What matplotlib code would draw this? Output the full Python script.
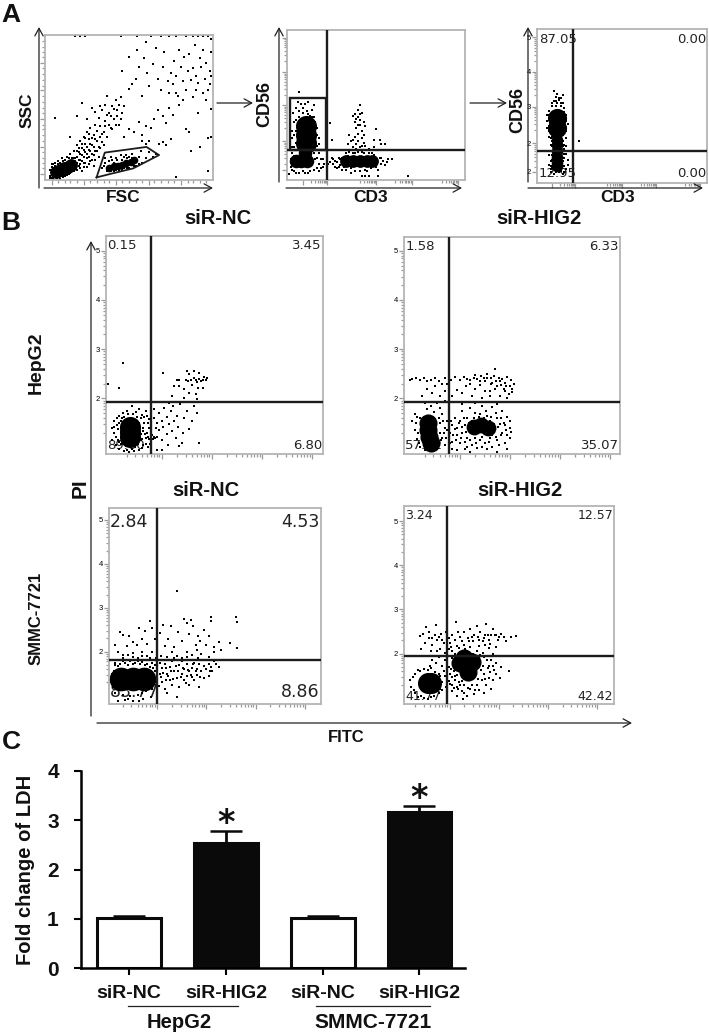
import numpy as np
import matplotlib
matplotlib.use('Agg')
import matplotlib.pyplot as plt

plt.rcParams['font.family'] = ['Liberation Sans', 'DejaVu Sans']

W, H = 709, 1034

# ---- panel A, axis units 0-100 of the plot range
a1_core = [(6.5, 5.5), (8, 6), (9.5, 7), (11.5, 8), (13.5, 9), (15.5, 10.5)]
a1_gate_core = [(38, 8.5), (41, 9.5), (43.5, 10), (46, 10.5), (48.5, 11.5), (51, 12.5), (53, 13.5)]
a1_pts = [(3, 1.5), (4, 9), (5, 11), (6, 12), (8, 13), (9, 1), (10, 15), (11, 2), (12, 3), (13, 16), (14, 4), (15, 18), (16, 6),
          (17, 15), (17, 20), (18, 8), (18, 13), (19, 16), (19, 24), (20, 10), (20, 19), (21, 14), (21, 27), (22, 6), (22, 17),
          (22, 22), (23, 12), (23, 30), (24, 19), (24, 25), (25, 9), (25, 15), (25, 33), (26, 21), (26, 28), (27, 13), (27, 36),
          (28, 18), (28, 24), (29, 31), (29, 10), (30, 20), (30, 38), (31, 27), (31, 34), (32, 23), (32, 43), (33, 30), (33, 37),
          (34, 26), (34, 48), (35, 33), (36, 41), (36, 52), (37, 30), (38, 46), (39, 36), (40, 51), (41, 42), (42, 55), (43, 48),
          (44, 38), (45, 57), (46, 46), (47, 51), (15, 30), (22, 53), (6, 43), (19, 44), (25, 42), (28, 50), (30, 47), (33, 51),
          (37, 58), (34, 8), (36, 15), (37, 6), (39, 16), (41, 6), (42, 15), (44, 7), (45, 17), (47, 8), (48, 17), (50, 8), (52, 18),
          (54, 10), (56, 16), (58, 12), (57, 20), (60, 15), (62, 19), (64, 16), (66, 18), (60, 25), (58, 27), (62, 27), (68, 25),
          (70, 26), (72, 24), (75, 28), (87, 20), (92, 23), (97, 29), (47, 30), (50, 35), (53, 33), (56, 40), (58, 31), (60, 37),
          (63, 36), (65, 42), (67, 48), (70, 44), (72, 39), (74, 50), (76, 45), (78, 60), (80, 52), (82, 55), (84, 35), (86, 33),
          (88, 57), (90, 62), (91, 46), (94, 60), (96, 55), (98, 66), (50, 63), (52, 66), (54, 70), (56, 78), (58, 58), (59, 84),
          (61, 74), (62, 65), (64, 80), (66, 91), (67, 70), (69, 62), (70, 78), (71, 88), (73, 68), (74, 60), (75, 74), (76, 66),
          (77, 82), (78, 72), (79, 58), (80, 90), (81, 78), (82, 68), (83, 85), (84, 62), (85, 75), (86, 87), (87, 69), (88, 77),
          (89, 93), (90, 72), (91, 67), (92, 84), (93, 78), (94, 90), (95, 70), (96, 81), (97, 62), (98, 75), (99, 97), (99, 88),
          (99, 72), (99, 49), (99, 30), (18, 99), (21, 99), (24, 99), (45, 99), (55, 99), (63, 99), (69, 99), (74, 99), (78, 99),
          (84, 99), (88, 99), (91, 99), (94, 99), (97, 99), (55, 90), (46, 75), (50, 85), (60, 95), (78, 2), (97, 6)]
a1_extra = [(3, 3), (3, 7), (4, 1.5), (4, 11), (5, 1), (6, 10), (7, 1.5), (8, 11), (9, 12), (10, 2.5), (11, 13), (12, 14), (13, 3.5),
            (14, 15), (15, 5), (16, 15), (17, 6), (17, 12), (18, 15), (18, 10), (19, 7), (19, 12), (19, 20), (20, 14), (20, 22),
            (21, 8), (21, 11), (21, 18), (22, 13), (22, 25), (23, 9), (23, 16), (23, 21), (24, 12), (24, 29), (25, 18), (25, 23),
            (26, 11), (26, 16), (26, 32), (27, 20), (27, 25), (28, 14), (28, 29), (29, 17), (29, 23), (30, 14), (30, 28), (31, 20),
            (32, 16), (33, 22), (34, 32), (35, 24), (36, 37), (37, 45), (38, 38), (39, 44), (40, 35), (41, 49), (42, 38), (43, 44),
            (44, 52), (45, 42), (35, 10), (36, 12), (38, 13), (40, 14), (41, 12), (43, 14), (44, 6), (46, 14), (47, 16), (49, 15),
            (50, 16), (52, 15), (53, 10), (55, 14), (56, 11), (39, 6), (42, 7), (46, 7), (49, 8)]
a1_gate = [(30.7, 1.8), (35.6, 18.9), (60.4, 22.8), (67.9, 17.2), (52.5, 8), (38.6, 4.1), (30.7, 1.8)]
a1_ticks = [4, 8, 12, 15, 19, 23, 27, 31, 35, 38, 42, 46, 50, 54, 58, 62, 65, 69, 73, 77, 81, 85, 88, 92, 96]

a2_upper_core = [(10.5, 36), (10.5, 30), (10.5, 25)]
a2_lower_core = [(5, 12.5), (8, 12.5), (11, 12.5), (10, 18)]
a2_right_core = [(33, 12.5), (37, 12.5), (41, 12.5), (45, 13), (48, 13)]
a2_pts = [(3, 10), (2, 14), (2, 20), (3, 28), (3, 33), (4, 39), (3, 22), (3.5, 45), (5, 40), (5, 48), (6, 52), (7, 46), (8, 51),
          (9, 48), (10, 51), (11, 46), (12, 52), (13, 43), (13, 37), (14, 47), (15, 50), (15, 33), (16, 26), (16, 39), (17, 30),
          (18, 28), (17, 23), (14, 22), (15, 18), (16, 14), (17, 8), (18, 11), (19, 14), (20, 9), (21, 11), (4, 6), (7, 5), (10, 5),
          (13, 6), (15, 7), (1, 4), (7, 59), (24, 38), (25, 27), (23, 11), (24, 12), (26, 11), (27, 13), (28, 8), (29, 15), (25, 15),
          (30, 10), (31, 7), (32, 14), (29, 9), (33, 18), (35, 19), (36, 8), (37, 18), (38, 6), (40, 19), (41, 6), (43, 18), (44, 7),
          (46, 18), (47, 8), (49, 17), (50, 9), (52, 15), (53, 11), (54, 13), (55, 10), (57, 14), (59, 14), (42, 3), (44, 3), (46, 3),
          (51, 3), (68, 2.5), (34, 24), (35, 30), (36, 26), (37, 22), (38, 29), (39, 35), (39, 24), (40, 31), (40, 26), (41, 37),
          (41, 22), (42, 33), (42, 28), (43, 25), (43, 30), (44, 36), (38, 39), (39, 41), (40, 42), (41, 44), (38, 44), (40, 47),
          (41, 40), (42, 45), (41, 50), (37, 43), (49, 27), (50, 34), (49, 22), (52, 27), (53, 24), (55, 24), (44, 23), (46, 21)]
a2_extra = [(4, 16), (4, 22), (4, 30), (3, 18), (5, 25), (5, 33), (5, 20), (16, 20), (16, 32), (17, 15), (17, 35), (18, 24), (18, 18),
            (14, 42), (12, 44), (9, 45), (7, 42), (6, 38), (6, 28), (15, 42), (19, 8), (18, 6), (20, 14), (3, 7), (2, 9), (5, 5),
            (9, 6), (12, 5), (31, 15), (32, 9), (33, 7), (34, 16), (36, 5), (38, 18), (42, 19), (45, 6), (48, 18), (51, 7), (53, 15),
            (56, 12), (33, 11), (31, 12), (30, 14), (28, 12), (27, 9), (26, 14), (39, 21), (42, 23), (37, 27), (40, 37), (43, 39)]

a3_main_core = [(12, 42), (12, 36)]
a3_small_core = [(12, 28), (12, 25), (12, 21), (12, 17), (12, 13), (11.5, 11)]
a3_pts = [(11, 56), (12, 58), (10, 53), (13, 54), (14, 55), (15, 52), (16, 49), (7, 47), (6, 44), (7, 41), (17, 44), (7, 37), (16, 38),
          (8, 33), (17, 34), (8, 29), (17, 29), (9, 27), (16, 25), (9, 24), (16, 22), (15, 27), (8, 21), (17, 19), (9, 18), (16, 16),
          (8, 14), (18, 12), (9, 10), (17, 9), (8, 7), (10, 6), (13, 7), (15, 6), (16, 11), (8, 11), (10, 60), (24.5, 27), (14, 20),
          (8, 44), (15, 57), (16, 43), (14, 50), (9, 50), (7, 34)]
a3_extra = [(9, 52), (11, 53), (12, 52), (14, 52), (16, 46), (17, 40), (17, 36), (18, 38), (6, 40), (6, 36), (7, 30), (8, 25), (10, 24),
            (15, 24), (14, 17), (15, 14), (16, 19), (7, 18), (7, 12), (8, 9), (10, 9), (14, 8), (16, 7), (18, 15), (11, 7), (9, 30),
            (15, 31), (14, 12), (9, 15), (10, 19), (17, 24), (13, 55), (11, 50), (7, 44)]

# ---- panel B, axis units are log decades
b1_core = [(1.37, 1.42), (1.37, 1.32), (1.37, 1.22)]
b1_pts = [(1.05, 1.55), (1.15, 1.65), (1.22, 1.7), (1.3, 1.75), (1.4, 1.85), (1.48, 1.72), (1.55, 1.78), (1.6, 1.66), (1.68, 1.75),
          (1.05, 1.3), (1.0, 1.15), (1.08, 1.05), (1.15, 0.98), (1.25, 0.93), (1.35, 0.92), (1.45, 0.93), (1.55, 0.95), (1.62, 1.05),
          (1.68, 1.2), (1.72, 1.02), (1.74, 1.4), (1.65, 1.5), (1.58, 1.6), (1.1, 1.45), (1.18, 1.55), (1.62, 1.4), (1.7, 1.3),
          (1.75, 1.58), (1.75, 1.18), (1.15, 1.12), (1.58, 1.15), (1.0, 1.4), (1.8, 1.25), (1.83, 1.18), (1.87, 1.2), (1.9, 1.22),
          (1.85, 1.6), (1.9, 1.5), (1.88, 1.4), (1.95, 1.7), (1.95, 1.35), (2.0, 1.55), (2.0, 1.15), (2.03, 1.42), (2.05, 1.8),
          (2.1, 1.62), (2.1, 1.28), (2.12, 1.05), (2.15, 1.48), (2.18, 1.75), (2.2, 1.33), (2.22, 1.85), (2.25, 1.55), (2.28, 1.2),
          (2.3, 1.65), (2.33, 1.42), (2.36, 1.88), (2.4, 1.1), (2.42, 1.3), (2.45, 1.6), (2.5, 1.75), (2.55, 1.38), (2.6, 1.55),
          (2.65, 1.85), (2.7, 1.7), (2.75, 1.1), (1.9, 0.95), (2.0, 0.95), (2.35, 1.03), (1.85, 1.78), (2.15, 1.9), (2.45, 2.0),
          (2.2, 2.05), (2.55, 2.1), (2.68, 2.08), (2.7, 1.98), (2.25, 2.25), (2.3, 2.38), (2.35, 2.38), (2.55, 2.1), (2.35, 2.25),
          (2.45, 2.2), (2.52, 2.35), (2.55, 2.5), (2.58, 2.38), (2.6, 2.27), (2.65, 2.42), (2.7, 2.33), (2.72, 2.22), (2.75, 2.4),
          (2.78, 2.35), (2.82, 2.38), (2.85, 2.43), (2.88, 2.38), (2.82, 2.22), (2.9, 2.41), (2.48, 2.38), (2.5, 2.55), (2.65, 2.55),
          (2.68, 2.38), (2.75, 2.52), (2.02, 2.52), (0.93, 2.3), (1.15, 2.22), (1.23, 2.72)]
b1_extra = [(1.08, 1.22), (1.1, 1.6), (1.12, 1.38), (1.14, 1.5), (1.18, 1.08), (1.2, 1.6), (1.25, 1.62), (1.28, 1.03), (1.32, 1.68),
            (1.38, 1.02), (1.42, 1.68), (1.46, 1.02), (1.5, 1.62), (1.52, 1.07), (1.55, 1.5), (1.58, 1.28), (1.6, 1.18), (1.63, 1.33),
            (1.66, 1.28), (1.68, 1.08), (1.72, 1.22), (1.76, 1.08), (1.78, 1.28), (1.84, 1.22), (1.65, 1.62), (1.72, 1.5), (1.05, 1.42),
            (1.12, 1.15), (1.6, 1.0), (1.3, 0.96), (1.4, 0.97), (1.7, 1.65)]

b2_core = [(1.37, 1.5), (1.37, 1.35), (1.39, 1.22), (1.42, 1.1)]
b2_mid_core = [(2.28, 1.42), (2.42, 1.45), (2.56, 1.4)]
b2_pts = [(1.05, 1.55), (1.1, 1.68), (1.15, 1.62), (1.1, 1.35), (1.15, 1.18), (1.2, 1.02), (1.3, 0.95), (1.5, 0.95), (1.55, 1.1),
          (1.6, 1.3), (1.6, 1.5), (1.65, 1.2), (1.7, 1.4), (1.75, 1.55), (1.7, 1.05), (1.8, 1.3), (1.85, 1.45), (1.85, 1.12),
          (1.9, 1.6), (1.95, 1.25), (1.95, 1.4), (2.0, 1.55), (2.0, 1.1), (2.05, 1.3), (2.05, 1.75), (2.1, 1.45), (2.1, 0.98),
          (2.15, 1.6), (2.15, 1.2), (2.2, 1.35), (2.2, 1.8), (2.05, 1.88), (2.25, 1.55), (2.25, 1.05), (2.3, 1.2), (2.3, 1.7),
          (2.35, 1.0), (2.4, 1.15), (2.4, 1.68), (2.45, 1.85), (2.5, 1.1), (2.55, 1.65), (2.6, 1.2), (2.6, 1.55), (2.65, 1.02),
          (2.65, 1.82), (2.7, 1.35), (2.75, 1.15), (2.75, 1.6), (2.8, 1.48), (2.85, 1.3), (2.85, 1.75), (2.9, 1.1), (2.9, 1.45),
          (2.95, 1.25), (2.95, 1.62), (3.0, 1.4), (3.0, 1.2), (2.95, 0.98), (2.75, 0.92), (2.2, 0.92), (1.95, 0.95), (1.85, 0.98),
          (1.3, 1.9), (1.35, 1.78), (1.42, 1.85), (1.48, 1.72), (1.55, 1.9), (1.6, 1.8), (1.65, 1.68), (1.7, 1.95), (1.78, 1.78),
          (1.25, 2.05), (1.35, 2.2), (1.45, 2.1), (1.5, 2.25), (1.6, 2.05), (1.7, 2.15), (1.75, 2.3), (1.85, 2.05), (1.95, 2.18),
          (2.05, 2.1), (2.12, 2.25), (2.25, 2.05), (2.3, 2.2), (2.45, 2.0), (2.5, 2.15), (2.6, 2.05), (2.7, 2.2), (2.8, 2.05),
          (2.9, 2.15), (2.95, 2.0), (1.0, 2.38), (1.05, 2.4), (1.12, 2.42), (1.2, 2.38), (1.28, 2.42), (1.35, 2.36), (1.42, 2.38),
          (1.5, 2.41), (1.58, 2.35), (1.7, 2.42), (1.82, 2.38), (1.9, 2.43), (2.0, 2.38), (2.08, 2.43), (2.15, 2.4), (2.2, 2.38),
          (2.28, 2.42), (2.35, 2.4), (2.42, 2.45), (2.5, 2.35), (2.55, 2.42), (2.62, 2.3), (2.68, 2.45), (2.72, 2.35), (2.78, 2.42),
          (2.82, 2.28), (2.85, 2.4), (2.9, 2.32), (2.95, 2.43), (3.0, 2.25), (3.05, 2.12), (3.08, 2.3), (3.05, 2.2), (2.7, 2.6),
          (2.55, 2.5), (2.3, 2.48), (2.6, 2.15), (2.4, 2.28), (2.75, 2.25), (2.88, 2.2), (2.98, 2.08)]
b2_extra = [(1.12, 1.5), (1.16, 1.3), (1.2, 1.6), (1.18, 1.1), (1.58, 1.6), (1.62, 1.15), (1.66, 1.55), (1.68, 1.3), (1.72, 1.2),
            (1.75, 1.35), (1.78, 1.48), (1.8, 1.1), (1.83, 1.55), (1.87, 1.25), (1.9, 1.38), (1.92, 1.15), (1.98, 1.5), (2.02, 1.2),
            (2.05, 1.42), (2.08, 1.6), (2.1, 1.12), (2.12, 1.32), (2.15, 1.02), (2.18, 1.5), (2.2, 1.15), (2.28, 1.6), (2.33, 1.1),
            (2.38, 1.62), (2.44, 1.22), (2.48, 1.6), (2.52, 1.75), (2.58, 1.12), (2.62, 1.62), (2.65, 1.25), (2.68, 1.48), (2.72, 1.22),
            (2.72, 1.7), (2.76, 1.42), (2.78, 1.05), (2.82, 1.25), (2.82, 1.6), (2.88, 1.5), (2.92, 1.35), (3.0, 1.55), (3.02, 1.32),
            (2.45, 1.02), (2.55, 0.98), (2.3, 1.9), (2.55, 1.92), (2.75, 1.88), (2.4, 2.35), (2.65, 2.32), (2.8, 2.35), (2.92, 2.25),
            (3.02, 2.38), (2.62, 2.42), (2.48, 2.42), (2.2, 2.3), (1.65, 2.3)]

b3_core = [(1.27, 1.37), (1.5, 1.37), (1.73, 1.37)]
b3_pts = [(1.1, 1.2), (1.12, 1.55), (1.15, 1.7), (1.2, 1.15), (1.25, 1.72), (1.35, 1.75), (1.45, 1.78), (1.55, 1.75), (1.65, 1.72),
          (1.75, 1.7), (1.85, 1.65), (1.85, 1.45), (1.82, 1.25), (1.78, 1.1), (1.7, 1.05), (1.6, 1.02), (1.45, 1.0), (1.3, 1.02),
          (1.15, 1.05), (1.2, 0.88), (1.35, 0.9), (1.5, 0.88), (1.62, 0.88), (1.9, 1.75), (1.95, 1.55), (1.95, 1.4), (1.98, 1.3),
          (2.0, 1.1), (2.05, 1.75), (2.05, 1.5), (2.1, 1.62), (2.1, 1.3), (2.15, 1.72), (2.15, 1.15), (2.2, 1.5), (2.2, 1.05),
          (2.25, 1.65), (2.25, 1.35), (2.3, 1.78), (2.3, 1.25), (2.35, 1.55), (2.4, 1.4), (2.4, 0.98), (2.45, 1.7), (2.45, 1.2),
          (2.5, 1.5), (2.5, 1.78), (2.55, 1.35), (2.55, 1.6), (2.6, 1.45), (2.6, 1.72), (2.65, 1.25), (2.65, 1.55), (2.7, 1.42),
          (2.7, 1.62), (2.75, 1.75), (2.75, 1.35), (2.8, 1.6), (2.8, 1.48), (2.85, 1.72), (2.85, 1.2), (2.9, 1.55), (2.95, 1.4),
          (3.0, 1.6), (3.05, 1.72), (3.05, 1.45), (3.1, 1.65), (3.12, 1.55), (3.15, 1.78), (3.2, 1.72), (3.25, 1.65), (1.3, 1.85),
          (1.4, 1.92), (1.5, 1.98), (1.6, 1.85), (1.7, 2.0), (1.8, 1.9), (1.9, 2.0), (1.98, 1.85), (2.08, 1.9), (2.2, 1.88),
          (2.3, 2.0), (2.4, 1.9), (2.5, 1.85), (2.6, 2.0), (2.7, 1.92), (2.8, 2.05), (2.9, 1.95), (3.05, 1.88), (3.15, 2.0),
          (1.15, 2.15), (1.2, 2.0), (1.25, 2.45), (1.3, 2.38), (1.38, 2.12), (1.42, 2.35), (1.5, 2.22), (1.58, 2.15), (1.62, 2.55),
          (1.7, 2.3), (1.75, 2.48), (1.8, 2.18), (1.85, 2.7), (1.9, 2.55), (1.95, 2.3), (2.0, 2.62), (2.05, 2.42), (2.12, 2.6),
          (2.15, 2.12), (2.22, 2.3), (2.28, 2.58), (2.35, 2.1), (2.42, 2.45), (2.5, 2.25), (2.55, 2.75), (2.6, 2.65), (2.65, 2.4),
          (2.68, 2.72), (2.72, 2.58), (2.78, 2.15), (2.82, 2.35), (2.88, 2.25), (2.95, 2.5), (3.0, 2.15), (3.05, 2.35), (3.1, 2.8),
          (3.1, 2.7), (3.15, 2.1), (3.25, 2.22), (3.3, 2.05), (3.48, 2.2), (3.6, 2.78), (3.62, 2.68), (3.62, 2.08), (2.41, 3.39)]
b3_extra = [(1.15, 1.75), (1.2, 1.68), (1.3, 1.78), (1.4, 1.7), (1.5, 1.72), (1.6, 1.78), (1.7, 1.76), (1.8, 1.72), (1.88, 1.55),
            (1.9, 1.35), (1.92, 1.62), (1.9, 1.15), (1.92, 1.25), (1.95, 1.7), (2.0, 1.42), (2.0, 1.65), (2.03, 1.22), (2.08, 1.42),
            (2.12, 1.52), (2.18, 1.35), (2.18, 1.62), (2.22, 1.45), (2.28, 1.55), (2.33, 1.38), (2.38, 1.68), (2.42, 1.55), (2.48, 1.42),
            (2.52, 1.62), (2.58, 1.28), (2.62, 1.58), (2.68, 1.48), (2.72, 1.72), (2.78, 1.55), (2.88, 1.42), (2.95, 1.68), (3.08, 1.55),
            (1.3, 1.92), (1.5, 1.88), (1.7, 1.9), (1.85, 1.85), (2.15, 1.82), (2.35, 1.85), (2.6, 1.88), (2.82, 1.85), (1.05, 1.35),
            (1.08, 1.5), (1.72, 0.92), (1.88, 0.98), (1.4, 0.93)]

b4_core = [(1.55, 1.34), (1.62, 1.34)]
b4_mid_core = [(2.22, 1.78), (2.46, 1.82), (2.38, 1.58), (2.3, 1.9)]
b4_pts = [(1.2, 1.4), (1.22, 1.25), (1.3, 1.55), (1.3, 1.12), (1.4, 1.6), (1.42, 1.05), (1.55, 1.62), (1.55, 0.98), (1.7, 1.58),
          (1.68, 1.05), (1.8, 1.5), (1.8, 1.2), (1.85, 1.35), (1.88, 1.6), (1.92, 1.25), (1.95, 1.45), (1.98, 1.7), (2.0, 1.32),
          (2.0, 1.55), (2.05, 1.9), (2.05, 1.15), (2.08, 1.6), (2.1, 1.4), (2.12, 1.75), (2.15, 1.25), (2.15, 1.52), (2.18, 1.9),
          (2.2, 1.35), (2.1, 1.5), (2.05, 1.3), (2.25, 1.15), (2.3, 1.28), (2.35, 1.05), (2.42, 1.2), (2.5, 1.08), (2.55, 1.3),
          (2.6, 1.18), (2.65, 1.4), (2.7, 1.12), (2.7, 1.55), (2.75, 1.3), (2.78, 1.68), (2.8, 1.45), (2.85, 1.2), (2.85, 1.85),
          (2.9, 1.62), (2.95, 1.78), (2.15, 1.05), (2.28, 0.98), (3.05, 1.7), (3.02, 1.45), (3.2, 1.6), (1.6, 1.72), (1.65, 1.85),
          (1.72, 1.78), (1.78, 1.92), (1.85, 1.72), (1.9, 1.85), (1.95, 1.98), (2.1, 2.0), (2.2, 2.12), (2.25, 2.0), (2.3, 2.2),
          (2.35, 2.05), (2.42, 2.15), (2.48, 2.28), (2.55, 2.05), (2.6, 2.18), (2.68, 2.02), (2.72, 2.2), (2.8, 2.12), (2.88, 2.0),
          (2.95, 2.15), (1.4, 2.4), (1.42, 2.1), (1.45, 2.45), (1.5, 2.25), (1.52, 2.6), (1.58, 2.35), (1.62, 2.05), (1.65, 2.2),
          (1.7, 2.42), (1.72, 2.65), (1.75, 2.3), (1.8, 2.1), (1.82, 2.45), (1.88, 2.25), (1.92, 2.48), (1.98, 2.35), (2.02, 2.15),
          (2.05, 2.42), (2.1, 2.3), (2.12, 2.72), (2.18, 2.5), (2.22, 2.38), (2.3, 2.48), (2.38, 2.35), (2.42, 2.55), (2.5, 2.42),
          (2.55, 2.62), (2.58, 2.38), (2.62, 2.5), (2.68, 2.28), (2.72, 2.42), (2.75, 2.68), (2.8, 2.3), (2.85, 2.42), (2.88, 2.55),
          (2.92, 2.42), (2.98, 2.3), (3.05, 2.44), (3.1, 2.38), (3.15, 2.28), (3.25, 2.38), (3.35, 2.4)]
b4_extra = [(1.25, 1.48), (1.28, 1.18), (1.35, 1.62), (1.35, 1.02), (1.48, 1.65), (1.48, 1.0), (1.62, 1.68), (1.62, 1.02), (1.78, 1.55),
            (1.78, 1.12), (1.85, 1.18), (1.9, 1.5), (1.95, 1.2), (1.98, 1.38), (2.02, 1.65), (2.05, 1.48), (2.08, 1.22), (2.12, 1.62),
            (2.18, 1.2), (2.22, 1.28), (2.26, 1.38), (2.3, 1.12), (2.38, 1.22), (2.46, 1.28), (2.52, 1.18), (2.58, 1.42), (2.64, 1.62),
            (2.68, 1.72), (2.72, 1.42), (2.76, 1.85), (2.8, 1.72), (2.82, 1.58), (2.88, 1.4), (2.88, 1.72), (2.95, 1.55), (2.7, 1.92),
            (2.62, 1.98), (2.48, 2.0), (2.4, 2.28), (2.32, 2.1), (2.15, 2.18), (2.05, 2.05), (1.98, 2.1), (1.9, 2.02), (1.75, 2.05),
            (1.68, 1.95), (1.58, 2.5), (1.65, 2.35), (1.78, 2.38), (1.85, 2.3), (2.0, 2.25), (2.25, 2.28), (2.45, 2.38), (2.7, 2.35),
            (2.78, 2.42), (2.95, 2.42), (3.0, 2.38), (2.82, 2.22), (2.6, 2.3)]

# ---- panel C
bar_labels = ['siR-NC', 'siR-HIG2', 'siR-NC', 'siR-HIG2']
ldh_mean = [1.02, 2.53, 1.02, 3.17]
ldh_err = [0.03, 0.25, 0.04, 0.12]
bar_fill = ['white', '#0a0a0a', 'white', '#0a0a0a']
star_bars = [1, 3]

fig = plt.figure(figsize=(W / 100, H / 100), dpi=100)


def px_axes(x0, y0, x1, y1, **kw):
    return fig.add_axes([x0 / W, 1 - y1 / H, (x1 - x0) / W, (y1 - y0) / H], **kw)


# overlay in pixel coordinates for arrows and labels
ov = fig.add_axes([0, 0, 1, 1], zorder=5)
ov.set_xlim(0, W)
ov.set_ylim(H, 0)
ov.axis('off')
ov.patch.set_alpha(0)


def arrow(x0, y0, x1, y1):
    ov.annotate('', xy=(x1, y1), xytext=(x0, y0),
                arrowprops=dict(arrowstyle='->,head_length=0.55,head_width=0.3', lw=0.9, color='#222222',
                                shrinkA=0, shrinkB=0))


def label(x, y, s, size=12, rot=0, weight='bold', **kw):
    ov.text(x, y, s, fontsize=size, rotation=rot, fontweight=weight, ha='center', va='center', color='#111111', **kw)


def log_minor(majors):
    out = []
    for d in majors:
        for k in range(2, 10):
            out.append(d - 1 + np.log10(k))
    return out


def flow_panel(rect, xlim, ylim, pts, cores, vline=None, hline=None, quad=None, qsize=10, ms=1.4):
    ax = px_axes(*rect)
    ax.set_xlim(xlim)
    ax.set_ylim(ylim)
    ax.scatter(*zip(*pts), s=ms, marker='s', c='black', linewidths=0, zorder=2)
    for core, s in cores:
        ax.scatter(*zip(*core), s=s, marker='o', c='black', linewidths=0, zorder=2)
    if vline is not None:
        ax.axvline(vline, color='#1c1c1c', lw=1.7, zorder=3)
        ax.axhline(hline, color='#1c1c1c', lw=1.7, zorder=3)
    for sp in ax.spines.values():
        sp.set_color('#b4b4b4')
        sp.set_linewidth(1.3)
    ax.tick_params(which='both', color='#9a9a9a', width=0.9, labelsize=5.5, pad=1, labelbottom=False)
    ax.tick_params(which='major', length=3.5)
    ax.tick_params(which='minor', length=2)
    if quad:
        for (tx, ty, s, ha) in quad:
            ax.text(tx, ty, s, transform=ax.transAxes, ha=ha, va='center', fontsize=qsize,
                    family='DejaVu Sans', color='#222222', zorder=1)
    return ax


def decade_ticks(ax, xmaj, ymaj, ylabels=None):
    ax.set_xticks(xmaj)
    ax.set_xticks([v for v in log_minor(xmaj) if ax.get_xlim()[0] < v < ax.get_xlim()[1]], minor=True)
    ax.set_yticks(ymaj)
    ax.set_yticklabels(ylabels if ylabels else [str(v) for v in ymaj])
    ax.set_yticks([v for v in log_minor(ymaj) if ax.get_ylim()[0] < v < ax.get_ylim()[1]], minor=True)


# A1
ax = flow_panel((45, 35, 213, 180), (0, 100), (0, 100), a1_pts + a1_extra, [(a1_core, 85), (a1_gate_core, 30)])
ax.plot(*zip(*a1_gate), color='#1c1c1c', lw=1.3)
ax.set_xticks(a1_ticks[::5])
ax.set_xticks(a1_ticks, minor=True)
ax.set_yticks(a1_ticks[::5])
ax.set_yticks(a1_ticks, minor=True)
ax.set_yticklabels([])

# A2, decades drawn on a 0-100 channel scale
a_major_x = [9, 22.6, 50, 70, 96]
a_major_y = [7, 26, 50, 72, 95]
ax = flow_panel((287, 30, 465, 180), (0, 100), (0, 100), a2_pts + a2_extra,
                [(a2_upper_core, 230), (a2_lower_core, 95), (a2_right_core, 85)], 22.6, 19.8)
ax.add_patch(plt.Rectangle((1.9, 19.8), 20.1, 35.1, fill=False, ec='#1c1c1c', lw=1.7, zorder=3))
ax.set_xticks(a_major_x)
ax.set_xticks(sorted(v - 13 * (1 - np.log10(k)) for v in a_major_x[1:] for k in range(2, 10)), minor=True)
ax.set_yticks(a_major_y)
ax.set_yticklabels([])
ax.set_yticks(sorted(v - 22 * (1 - np.log10(k)) for v in a_major_y[1:] for k in range(2, 10)), minor=True)

# A3
ax = flow_panel((537, 29, 707, 183), (0, 100), (0, 100), a3_pts + a3_extra,
                [(a3_main_core, 190), (a3_small_core, 70)], 21.3, 20.9,
                quad=[(0.01, 0.935, '87.05', 'left'), (0.995, 0.935, '0.00', 'right'),
                      (0.01, 0.06, '12.95', 'left'), (0.995, 0.06, '0.00', 'right')], qsize=9.5)
ax.set_xticks(a_major_x)
ax.set_xticks(sorted(v - 13 * (1 - np.log10(k)) for v in a_major_x[1:] for k in range(2, 10)), minor=True)
ax.set_yticks([7.2, 25.7, 49.6, 72.4, 94.6])
ax.set_yticklabels(['2', '2', '3', '4', '5'])
ax.set_yticks(sorted(v - 22 * (1 - np.log10(k)) for v in [25.7, 49.6, 72.4, 94.6] for k in range(2, 10)), minor=True)

# B panels
ax = flow_panel((106, 236, 323, 454), (0.89, 5.22), (0.87, 5.30), b1_pts + b1_extra, [(b1_core, 230)], 1.78, 1.93,
                quad=[(0.005, 0.955, '0.15', 'left'), (0.995, 0.955, '3.45', 'right'),
                      (0.005, 0.04, '89.60', 'left'), (0.995, 0.04, '6.80', 'right')], qsize=9.5)
decade_ticks(ax, [2, 3, 4, 5], [2, 3, 4, 5])
ax = flow_panel((404, 237, 620, 454), (0.89, 5.2), (0.87, 5.28), b2_pts + b2_extra,
                [(b2_core, 170), (b2_mid_core, 130)], 1.79, 1.93,
                quad=[(0.005, 0.955, '1.58', 'left'), (0.995, 0.955, '6.33', 'right'),
                      (0.005, 0.04, '57.02', 'left'), (0.995, 0.04, '35.07', 'right')], qsize=9.5)
decade_ticks(ax, [2, 3, 4, 5], [2, 3, 4, 5])
ax = flow_panel((109, 508, 321, 704), (1.02, 5.33), (0.81, 5.27), b3_pts + b3_extra, [(b3_core, 290)], 1.99, 1.80,
                quad=[(0.005, 0.93, '2.84', 'left'), (0.995, 0.93, '4.53', 'right'),
                      (0.005, 0.06, '83.77', 'left'), (0.995, 0.06, '8.86', 'right')], qsize=12.5)
decade_ticks(ax, [2, 3, 4, 5], [2, 3, 4, 5])
ax = flow_panel((404, 506, 614, 704), (1.07, 5.35), (0.86, 5.34), b4_pts + b4_extra,
                [(b4_core, 230), (b4_mid_core, 170)], 1.95, 1.94,
                quad=[(0.005, 0.95, '3.24', 'left'), (0.995, 0.95, '12.57', 'right'),
                      (0.005, 0.04, '41.77', 'left'), (0.995, 0.04, '42.42', 'right')], qsize=9)
decade_ticks(ax, [2, 3, 4, 5], [2, 3, 4, 5])

# C
bx = px_axes(81, 771, 465, 968)
pos = np.arange(len(ldh_mean))
bx.bar(pos, ldh_mean, width=0.66, color=bar_fill, edgecolor='#0a0a0a', linewidth=2.2)
bx.errorbar(pos, ldh_mean, yerr=[np.zeros(len(ldh_err)), ldh_err], fmt='none', ecolor='#0a0a0a',
            elinewidth=2, capsize=11.5, capthick=1.8)
bx.set_xlim(-0.496, 3.47)
bx.set_ylim(0, 4)
bx.set_xticks(pos)
bx.set_xticklabels(bar_labels, fontsize=14, fontweight='bold', color='#111111')
bx.set_yticks(range(5))
bx.set_yticklabels(range(5), fontsize=15, fontweight='bold', color='#111111')
bx.tick_params(axis='both', width=1.5, length=5)
bx.tick_params(axis='x', pad=7)
bx.tick_params(axis='y', pad=11)
for s in ['top', 'right']:
    bx.spines[s].set_visible(False)
for s in ['left', 'bottom']:
    bx.spines[s].set_linewidth(1.8)
for i in star_bars:
    bx.text(i, ldh_mean[i] + ldh_err[i] - 0.18, '*', fontsize=24, fontweight='bold', ha='center', va='bottom',
            family='DejaVu Sans', linespacing=1, color='#111111')
bx.set_ylabel('Fold change of LDH', fontsize=14.5, fontweight='bold', color='#111111')
bx.yaxis.set_label_coords(-0.12, 0.5)

# arrows
arrow(39, 188, 39, 27)
arrow(44, 188, 213, 188)
arrow(217, 103, 253, 103)
arrow(279, 182, 279, 27)
arrow(286, 188, 462, 188)
arrow(470, 103, 507, 103)
arrow(528, 182, 528, 27)
arrow(528, 188, 703, 188)
arrow(91, 716, 91, 241)
arrow(97, 723, 632, 723)
ov.plot([128, 238], [1006, 1006], color='#222222', lw=0.9)
ov.plot([316, 430], [1006, 1006], color='#222222', lw=0.9)

# labels
label(11, 15, 'A', 19)
label(11, 223, 'B', 19)
label(11, 742, 'C', 19)
label(27, 110, 'SSC', 12.5, 90)
label(123, 197, 'FSC', 12.5)
label(265, 104, 'CD56', 13, 90)
label(371, 197, 'CD3', 12.5)
label(518, 110, 'CD56', 13, 90)
label(618, 197, 'CD3', 12.5)
label(218, 219, 'siR-NC', 14.5)
label(539, 219, 'siR-HIG2', 14.5)
label(206, 490, 'siR-NC', 14.5)
label(520, 490, 'siR-HIG2', 14.5)
label(36, 363, 'HepG2', 14, 90)
label(36, 618, 'SMMC-7721', 12, 90)
label(80, 488, 'PI', 15, 90)
label(346, 738, 'FITC', 12)
label(179, 1022, 'HepG2', 14.5)
label(373, 1022, 'SMMC-7721', 15)

fig.savefig('out.png', dpi=100)
